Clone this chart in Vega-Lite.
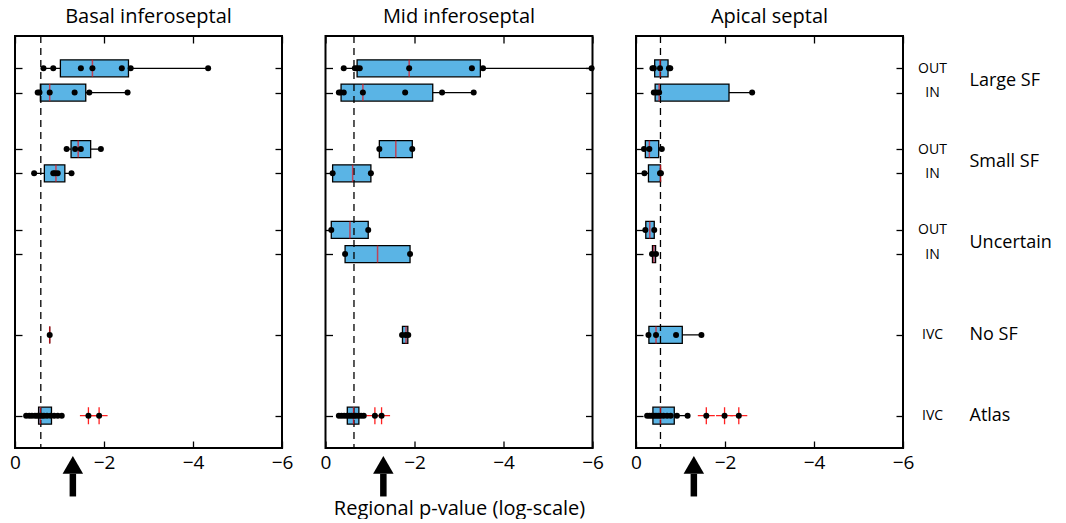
{
  "$schema": "https://vega.github.io/schema/vega-lite/v6.json",
  "padding": {"left": 8, "top": 6, "right": 0, "bottom": 0},
  "bounds": "flush",
  "spacing": 43.5,
  "datasets": {
    "boxes": [
      {"panel": "B", "y": 5.3, "lo": -0.64, "q1": -1.02, "med": -1.74, "q3": -2.55, "hi": -4.34},
      {"panel": "B", "y": 5, "lo": -0.51, "q1": -0.57, "med": -0.78, "q3": -1.59, "hi": -2.53},
      {"panel": "B", "y": 4.3, "lo": -1.16, "q1": -1.26, "med": -1.42, "q3": -1.7, "hi": -1.93},
      {"panel": "B", "y": 4, "lo": -0.43, "q1": -0.66, "med": -0.92, "q3": -1.12, "hi": -1.27},
      {"panel": "B", "y": 2, "lo": -0.78, "q1": -0.78, "med": -0.78, "q3": -0.78, "hi": -0.78},
      {"panel": "B", "y": 1, "lo": -0.25, "q1": -0.53, "med": -0.57, "q3": -0.82, "hi": -1.05},
      {"panel": "M", "y": 5.3, "lo": -0.41, "q1": -0.71, "med": -1.88, "q3": -3.48, "hi": -5.98},
      {"panel": "M", "y": 5, "lo": -0.3, "q1": -0.35, "med": -0.84, "q3": -2.41, "hi": -3.33},
      {"panel": "M", "y": 4.3, "lo": -1.21, "q1": -1.21, "med": -1.58, "q3": -1.95, "hi": -1.95},
      {"panel": "M", "y": 4, "lo": -0.16, "q1": -0.16, "med": -0.61, "q3": -1.02, "hi": -1.02},
      {"panel": "M", "y": 3.3, "lo": -0.13, "q1": -0.13, "med": -0.55, "q3": -0.96, "hi": -0.96},
      {"panel": "M", "y": 3, "lo": -0.44, "q1": -0.44, "med": -1.17, "q3": -1.9, "hi": -1.9},
      {"panel": "M", "y": 2, "lo": -1.72, "q1": -1.73, "med": -1.81, "q3": -1.85, "hi": -1.86},
      {"panel": "M", "y": 1, "lo": -0.3, "q1": -0.49, "med": -0.63, "q3": -0.75, "hi": -0.86},
      {"panel": "A", "y": 5.3, "lo": -0.37, "q1": -0.42, "med": -0.54, "q3": -0.72, "hi": -0.77},
      {"panel": "A", "y": 5, "lo": -0.4, "q1": -0.43, "med": -0.52, "q3": -2.09, "hi": -2.61},
      {"panel": "A", "y": 4.3, "lo": -0.18, "q1": -0.21, "med": -0.3, "q3": -0.51, "hi": -0.58},
      {"panel": "A", "y": 4, "lo": -0.19, "q1": -0.28, "med": -0.55, "q3": -0.55, "hi": -0.56},
      {"panel": "A", "y": 3.3, "lo": -0.21, "q1": -0.22, "med": -0.31, "q3": -0.41, "hi": -0.41},
      {"panel": "A", "y": 3, "lo": -0.36, "q1": -0.37, "med": -0.4, "q3": -0.44, "hi": -0.45},
      {"panel": "A", "y": 2, "lo": -0.28, "q1": -0.29, "med": -0.45, "q3": -1.04, "hi": -1.47},
      {"panel": "A", "y": 1, "lo": -0.25, "q1": -0.38, "med": -0.55, "q3": -0.86, "hi": -1.16}
    ],
    "points": [
      {"panel": "B", "y": 5.3, "v": -0.64, "out": 0}, {"panel": "B", "y": 5.3, "v": -0.86, "out": 0}, {"panel": "B", "y": 5.3, "v": -1.48, "out": 0}, {"panel": "B", "y": 5.3, "v": -1.74, "out": 0}, {"panel": "B", "y": 5.3, "v": -2.4, "out": 0}, {"panel": "B", "y": 5.3, "v": -2.6, "out": 0}, {"panel": "B", "y": 5.3, "v": -4.34, "out": 0},
      {"panel": "B", "y": 5, "v": -0.51, "out": 0}, {"panel": "B", "y": 5, "v": -0.55, "out": 0}, {"panel": "B", "y": 5, "v": -0.78, "out": 0}, {"panel": "B", "y": 5, "v": -1.34, "out": 0}, {"panel": "B", "y": 5, "v": -1.67, "out": 0}, {"panel": "B", "y": 5, "v": -2.53, "out": 0},
      {"panel": "B", "y": 4.3, "v": -1.16, "out": 0}, {"panel": "B", "y": 4.3, "v": -1.35, "out": 0}, {"panel": "B", "y": 4.3, "v": -1.48, "out": 0}, {"panel": "B", "y": 4.3, "v": -1.93, "out": 0},
      {"panel": "B", "y": 4, "v": -0.43, "out": 0}, {"panel": "B", "y": 4, "v": -0.86, "out": 0}, {"panel": "B", "y": 4, "v": -0.9, "out": 0}, {"panel": "B", "y": 4, "v": -0.96, "out": 0}, {"panel": "B", "y": 4, "v": -1.27, "out": 0},
      {"panel": "B", "y": 2, "v": -0.78, "out": 0},
      {"panel": "B", "y": 1, "v": -0.25, "out": 0}, {"panel": "B", "y": 1, "v": -0.32, "out": 0}, {"panel": "B", "y": 1, "v": -0.38, "out": 0}, {"panel": "B", "y": 1, "v": -0.45, "out": 0}, {"panel": "B", "y": 1, "v": -0.5, "out": 0}, {"panel": "B", "y": 1, "v": -0.55, "out": 0}, {"panel": "B", "y": 1, "v": -0.6, "out": 0}, {"panel": "B", "y": 1, "v": -0.65, "out": 0}, {"panel": "B", "y": 1, "v": -0.72, "out": 0}, {"panel": "B", "y": 1, "v": -0.8, "out": 0}, {"panel": "B", "y": 1, "v": -0.88, "out": 0}, {"panel": "B", "y": 1, "v": -0.96, "out": 0}, {"panel": "B", "y": 1, "v": -1.05, "out": 0}, {"panel": "B", "y": 1, "v": -1.65, "out": 1}, {"panel": "B", "y": 1, "v": -1.89, "out": 1},
      {"panel": "M", "y": 5.3, "v": -0.41, "out": 0}, {"panel": "M", "y": 5.3, "v": -0.66, "out": 0}, {"panel": "M", "y": 5.3, "v": -0.71, "out": 0}, {"panel": "M", "y": 5.3, "v": -0.77, "out": 0}, {"panel": "M", "y": 5.3, "v": -1.88, "out": 0}, {"panel": "M", "y": 5.3, "v": -3.29, "out": 0}, {"panel": "M", "y": 5.3, "v": -3.54, "out": 0}, {"panel": "M", "y": 5.3, "v": -5.98, "out": 0},
      {"panel": "M", "y": 5, "v": -0.3, "out": 0}, {"panel": "M", "y": 5, "v": -0.34, "out": 0}, {"panel": "M", "y": 5, "v": -0.41, "out": 0}, {"panel": "M", "y": 5, "v": -0.84, "out": 0}, {"panel": "M", "y": 5, "v": -1.79, "out": 0}, {"panel": "M", "y": 5, "v": -2.62, "out": 0}, {"panel": "M", "y": 5, "v": -3.33, "out": 0},
      {"panel": "M", "y": 4.3, "v": -1.21, "out": 0}, {"panel": "M", "y": 4.3, "v": -1.95, "out": 0},
      {"panel": "M", "y": 4, "v": -0.16, "out": 0}, {"panel": "M", "y": 4, "v": -1.02, "out": 0},
      {"panel": "M", "y": 3.3, "v": -0.13, "out": 0}, {"panel": "M", "y": 3.3, "v": -0.96, "out": 0},
      {"panel": "M", "y": 3, "v": -0.44, "out": 0}, {"panel": "M", "y": 3, "v": -1.9, "out": 0},
      {"panel": "M", "y": 2, "v": -1.72, "out": 0}, {"panel": "M", "y": 2, "v": -1.8, "out": 0}, {"panel": "M", "y": 2, "v": -1.86, "out": 0},
      {"panel": "M", "y": 1, "v": -0.3, "out": 0}, {"panel": "M", "y": 1, "v": -0.36, "out": 0}, {"panel": "M", "y": 1, "v": -0.42, "out": 0}, {"panel": "M", "y": 1, "v": -0.48, "out": 0}, {"panel": "M", "y": 1, "v": -0.53, "out": 0}, {"panel": "M", "y": 1, "v": -0.58, "out": 0}, {"panel": "M", "y": 1, "v": -0.63, "out": 0}, {"panel": "M", "y": 1, "v": -0.68, "out": 0}, {"panel": "M", "y": 1, "v": -0.74, "out": 0}, {"panel": "M", "y": 1, "v": -0.8, "out": 0}, {"panel": "M", "y": 1, "v": -0.86, "out": 0}, {"panel": "M", "y": 1, "v": -1.11, "out": 1}, {"panel": "M", "y": 1, "v": -1.26, "out": 1},
      {"panel": "A", "y": 5.3, "v": -0.37, "out": 0}, {"panel": "A", "y": 5.3, "v": -0.4, "out": 0}, {"panel": "A", "y": 5.3, "v": -0.54, "out": 0}, {"panel": "A", "y": 5.3, "v": -0.74, "out": 0}, {"panel": "A", "y": 5.3, "v": -0.77, "out": 0},
      {"panel": "A", "y": 5, "v": -0.4, "out": 0}, {"panel": "A", "y": 5, "v": -0.46, "out": 0}, {"panel": "A", "y": 5, "v": -0.52, "out": 0}, {"panel": "A", "y": 5, "v": -2.61, "out": 0},
      {"panel": "A", "y": 4.3, "v": -0.18, "out": 0}, {"panel": "A", "y": 4.3, "v": -0.3, "out": 0}, {"panel": "A", "y": 4.3, "v": -0.58, "out": 0},
      {"panel": "A", "y": 4, "v": -0.19, "out": 0}, {"panel": "A", "y": 4, "v": -0.54, "out": 0}, {"panel": "A", "y": 4, "v": -0.56, "out": 0},
      {"panel": "A", "y": 3.3, "v": -0.21, "out": 0}, {"panel": "A", "y": 3.3, "v": -0.41, "out": 0},
      {"panel": "A", "y": 3, "v": -0.36, "out": 0}, {"panel": "A", "y": 3, "v": -0.45, "out": 0},
      {"panel": "A", "y": 2, "v": -0.28, "out": 0}, {"panel": "A", "y": 2, "v": -0.45, "out": 0}, {"panel": "A", "y": 2, "v": -0.9, "out": 0}, {"panel": "A", "y": 2, "v": -1.47, "out": 0},
      {"panel": "A", "y": 1, "v": -0.25, "out": 0}, {"panel": "A", "y": 1, "v": -0.3, "out": 0}, {"panel": "A", "y": 1, "v": -0.35, "out": 0}, {"panel": "A", "y": 1, "v": -0.4, "out": 0}, {"panel": "A", "y": 1, "v": -0.45, "out": 0}, {"panel": "A", "y": 1, "v": -0.5, "out": 0}, {"panel": "A", "y": 1, "v": -0.55, "out": 0}, {"panel": "A", "y": 1, "v": -0.62, "out": 0}, {"panel": "A", "y": 1, "v": -0.7, "out": 0}, {"panel": "A", "y": 1, "v": -0.78, "out": 0}, {"panel": "A", "y": 1, "v": -0.92, "out": 0}, {"panel": "A", "y": 1, "v": -1.16, "out": 0}, {"panel": "A", "y": 1, "v": -1.58, "out": 1}, {"panel": "A", "y": 1, "v": -1.99, "out": 1}, {"panel": "A", "y": 1, "v": -2.31, "out": 1}
    ],
    "refs": [
      {"panel": "B", "v": -0.58, "arrow": -1.3, "a1": 0.0, "a2": 0.28, "ah": 0.39},
      {"panel": "M", "v": -0.64, "arrow": -1.3, "a1": 0.0, "a2": 0.28, "ah": 0.39},
      {"panel": "A", "v": -0.55, "arrow": -1.3, "a1": 0.0, "a2": 0.28, "ah": 0.39}
    ]
  },
  "hconcat": [
    {
      "width": 267, "height": 412,
      "title": {"text": "Basal inferoseptal"},
      "layer": [
        {"data": {"name": "boxes"}, "transform": [{"filter": "datum.panel == 'B'"}],
         "mark": {"type": "rule", "color": "black", "strokeWidth": 1.3},
         "encoding": {
           "x": {"field": "lo", "type": "quantitative", "scale": {"domain": [0, -6], "nice": false, "zero": false}, "axis": {"orient": "bottom", "values": [0, -2, -4, -6], "tickSize": -7, "labelPadding": 12, "title": null}},
           "x2": {"field": "hi"},
           "y": {"field": "y", "type": "quantitative", "scale": {"domain": [0.6, 5.7], "nice": false, "zero": false}, "axis": {"orient": "left", "values": [1, 2, 3, 3.3, 4, 4.3, 5, 5.3], "tickSize": -7, "labels": false, "title": null}}}},
        {"data": {"name": "boxes"}, "transform": [{"filter": "datum.panel == 'B'"}],
         "mark": {"type": "bar", "orient": "horizontal", "size": 17, "fill": "#5ab4e5", "stroke": "black", "strokeWidth": 1.3},
         "encoding": {
           "x": {"field": "q1", "type": "quantitative", "scale": {"domain": [0, -6], "nice": false, "zero": false}, "axis": {"orient": "top", "values": [0, -2, -4, -6], "tickSize": -7, "labels": false, "title": null}},
           "x2": {"field": "q3"},
           "y": {"field": "y", "type": "quantitative", "scale": {"domain": [0.6, 5.7], "nice": false, "zero": false}, "axis": {"orient": "right", "values": [1, 2, 3, 3.3, 4, 4.3, 5, 5.3], "tickSize": -7, "labels": false, "title": null}}}},
        {"data": {"name": "refs"}, "transform": [{"filter": "datum.panel == 'B'"}],
         "mark": {"type": "rule", "color": "black", "strokeWidth": 1.3, "strokeDash": [7, 5]},
         "encoding": {"x": {"field": "v", "type": "quantitative", "scale": {"domain": [0, -6], "nice": false, "zero": false}, "axis": null}}},
        {"data": {"name": "boxes"}, "transform": [{"filter": "datum.panel == 'B'"}],
         "mark": {"type": "tick", "orient": "vertical", "color": "#e8141c", "size": 17, "thickness": 1.5},
         "encoding": {
           "x": {"field": "med", "type": "quantitative", "scale": {"domain": [0, -6], "nice": false, "zero": false}, "axis": null},
           "y": {"field": "y", "type": "quantitative", "scale": {"domain": [0.6, 5.7], "nice": false, "zero": false}, "axis": null}}},
        {"data": {"name": "points"}, "transform": [{"filter": "datum.panel == 'B' && datum.out == 1"}],
         "mark": {"type": "point", "shape": "M-1,0L1,0M0,-1L0,1", "filled": false, "stroke": "#ff2020", "strokeWidth": 1.3, "size": 289, "opacity": 1},
         "encoding": {
           "x": {"field": "v", "type": "quantitative", "scale": {"domain": [0, -6], "nice": false, "zero": false}, "axis": null},
           "y": {"field": "y", "type": "quantitative", "scale": {"domain": [0.6, 5.7], "nice": false, "zero": false}, "axis": null}}},
        {"data": {"name": "points"}, "transform": [{"filter": "datum.panel == 'B'"}],
         "mark": {"type": "circle", "color": "black", "size": 36, "opacity": 1},
         "encoding": {
           "x": {"field": "v", "type": "quantitative", "scale": {"domain": [0, -6], "nice": false, "zero": false}, "axis": null},
           "y": {"field": "y", "type": "quantitative", "scale": {"domain": [0.6, 5.7], "nice": false, "zero": false}, "axis": null}}},
        {"data": {"name": "refs"}, "transform": [{"filter": "datum.panel == 'B'"}],
         "mark": {"type": "rule", "color": "black", "strokeWidth": 6.5},
         "encoding": {
           "x": {"field": "arrow", "type": "quantitative", "scale": {"domain": [0, -6], "nice": false, "zero": false}, "axis": null},
           "y": {"field": "a1", "type": "quantitative", "scale": {"domain": [0.6, 5.7], "nice": false, "zero": false}, "axis": null},
           "y2": {"field": "a2"}}},
        {"data": {"name": "refs"}, "transform": [{"filter": "datum.panel == 'B'"}],
         "mark": {"type": "point", "shape": "triangle-up", "filled": true, "color": "black", "size": 420, "opacity": 1},
         "encoding": {
           "x": {"field": "arrow", "type": "quantitative", "scale": {"domain": [0, -6], "nice": false, "zero": false}, "axis": null},
           "y": {"field": "ah", "type": "quantitative", "scale": {"domain": [0.6, 5.7], "nice": false, "zero": false}, "axis": null}}}
      ],
      "resolve": {"axis": {"x": "independent", "y": "independent"}}
    },
    {
      "width": 267, "height": 412,
      "title": {"text": "Mid inferoseptal"},
      "layer": [
        {"data": {"name": "boxes"}, "transform": [{"filter": "datum.panel == 'M'"}],
         "mark": {"type": "rule", "color": "black", "strokeWidth": 1.3},
         "encoding": {
           "x": {"field": "lo", "type": "quantitative", "scale": {"domain": [0, -6], "nice": false, "zero": false}, "axis": {"orient": "bottom", "values": [0, -2, -4, -6], "tickSize": -7, "labelPadding": 12, "title": "Regional p-value (log-scale)", "titlePadding": 26}},
           "x2": {"field": "hi"},
           "y": {"field": "y", "type": "quantitative", "scale": {"domain": [0.6, 5.7], "nice": false, "zero": false}, "axis": {"orient": "left", "values": [1, 2, 3, 3.3, 4, 4.3, 5, 5.3], "tickSize": -7, "labels": false, "title": null}}}},
        {"data": {"name": "boxes"}, "transform": [{"filter": "datum.panel == 'M'"}],
         "mark": {"type": "bar", "orient": "horizontal", "size": 17, "fill": "#5ab4e5", "stroke": "black", "strokeWidth": 1.3},
         "encoding": {
           "x": {"field": "q1", "type": "quantitative", "scale": {"domain": [0, -6], "nice": false, "zero": false}, "axis": {"orient": "top", "values": [0, -2, -4, -6], "tickSize": -7, "labels": false, "title": null}},
           "x2": {"field": "q3"},
           "y": {"field": "y", "type": "quantitative", "scale": {"domain": [0.6, 5.7], "nice": false, "zero": false}, "axis": {"orient": "right", "values": [1, 2, 3, 3.3, 4, 4.3, 5, 5.3], "tickSize": -7, "labels": false, "title": null}}}},
        {"data": {"name": "refs"}, "transform": [{"filter": "datum.panel == 'M'"}],
         "mark": {"type": "rule", "color": "black", "strokeWidth": 1.3, "strokeDash": [7, 5]},
         "encoding": {"x": {"field": "v", "type": "quantitative", "scale": {"domain": [0, -6], "nice": false, "zero": false}, "axis": null}}},
        {"data": {"name": "boxes"}, "transform": [{"filter": "datum.panel == 'M'"}],
         "mark": {"type": "tick", "orient": "vertical", "color": "#e8141c", "size": 17, "thickness": 1.5},
         "encoding": {
           "x": {"field": "med", "type": "quantitative", "scale": {"domain": [0, -6], "nice": false, "zero": false}, "axis": null},
           "y": {"field": "y", "type": "quantitative", "scale": {"domain": [0.6, 5.7], "nice": false, "zero": false}, "axis": null}}},
        {"data": {"name": "points"}, "transform": [{"filter": "datum.panel == 'M' && datum.out == 1"}],
         "mark": {"type": "point", "shape": "M-1,0L1,0M0,-1L0,1", "filled": false, "stroke": "#ff2020", "strokeWidth": 1.3, "size": 289, "opacity": 1},
         "encoding": {
           "x": {"field": "v", "type": "quantitative", "scale": {"domain": [0, -6], "nice": false, "zero": false}, "axis": null},
           "y": {"field": "y", "type": "quantitative", "scale": {"domain": [0.6, 5.7], "nice": false, "zero": false}, "axis": null}}},
        {"data": {"name": "points"}, "transform": [{"filter": "datum.panel == 'M'"}],
         "mark": {"type": "circle", "color": "black", "size": 36, "opacity": 1},
         "encoding": {
           "x": {"field": "v", "type": "quantitative", "scale": {"domain": [0, -6], "nice": false, "zero": false}, "axis": null},
           "y": {"field": "y", "type": "quantitative", "scale": {"domain": [0.6, 5.7], "nice": false, "zero": false}, "axis": null}}},
        {"data": {"name": "refs"}, "transform": [{"filter": "datum.panel == 'M'"}],
         "mark": {"type": "rule", "color": "black", "strokeWidth": 6.5},
         "encoding": {
           "x": {"field": "arrow", "type": "quantitative", "scale": {"domain": [0, -6], "nice": false, "zero": false}, "axis": null},
           "y": {"field": "a1", "type": "quantitative", "scale": {"domain": [0.6, 5.7], "nice": false, "zero": false}, "axis": null},
           "y2": {"field": "a2"}}},
        {"data": {"name": "refs"}, "transform": [{"filter": "datum.panel == 'M'"}],
         "mark": {"type": "point", "shape": "triangle-up", "filled": true, "color": "black", "size": 420, "opacity": 1},
         "encoding": {
           "x": {"field": "arrow", "type": "quantitative", "scale": {"domain": [0, -6], "nice": false, "zero": false}, "axis": null},
           "y": {"field": "ah", "type": "quantitative", "scale": {"domain": [0.6, 5.7], "nice": false, "zero": false}, "axis": null}}}
      ],
      "resolve": {"axis": {"x": "independent", "y": "independent"}}
    },
    {
      "width": 267, "height": 412,
      "title": {"text": "Apical septal"},
      "layer": [
        {"data": {"name": "boxes"}, "transform": [{"filter": "datum.panel == 'A'"}],
         "mark": {"type": "rule", "color": "black", "strokeWidth": 1.3},
         "encoding": {
           "x": {"field": "lo", "type": "quantitative", "scale": {"domain": [0, -6], "nice": false, "zero": false}, "axis": {"orient": "bottom", "values": [0, -2, -4, -6], "tickSize": -7, "labelPadding": 12, "title": null}},
           "x2": {"field": "hi"},
           "y": {"field": "y", "type": "quantitative", "scale": {"domain": [0.6, 5.7], "nice": false, "zero": false}, "axis": {"orient": "left", "values": [1, 2, 3, 3.3, 4, 4.3, 5, 5.3], "tickSize": -7, "labels": false, "title": null}}}},
        {"data": {"name": "boxes"}, "transform": [{"filter": "datum.panel == 'A'"}],
         "mark": {"type": "bar", "orient": "horizontal", "size": 17, "fill": "#5ab4e5", "stroke": "black", "strokeWidth": 1.3},
         "encoding": {
           "x": {"field": "q1", "type": "quantitative", "scale": {"domain": [0, -6], "nice": false, "zero": false}, "axis": {"orient": "top", "values": [0, -2, -4, -6], "tickSize": -7, "labels": false, "title": null}},
           "x2": {"field": "q3"},
           "y": {"field": "y", "type": "quantitative", "scale": {"domain": [0.6, 5.7], "nice": false, "zero": false}, "axis": {"orient": "right", "values": [1, 2, 3, 3.3, 4, 4.3, 5, 5.3], "tickSize": -7, "labels": true, "labelFontSize": 14, "labelAlign": "center", "labelPadding": 36, "labelExpr": "indexof([5.3, 4.3, 3.3], datum.value) >= 0 ? 'OUT' : datum.value >= 3 ? 'IN' : 'IVC'", "title": null}}}},
        {"data": {"name": "refs"}, "transform": [{"filter": "datum.panel == 'A'"}],
         "mark": {"type": "rule", "color": "black", "strokeWidth": 1.3, "strokeDash": [7, 5]},
         "encoding": {"x": {"field": "v", "type": "quantitative", "scale": {"domain": [0, -6], "nice": false, "zero": false}, "axis": null}}},
        {"data": {"name": "boxes"}, "transform": [{"filter": "datum.panel == 'A'"}],
         "mark": {"type": "tick", "orient": "vertical", "color": "#e8141c", "size": 17, "thickness": 1.5},
         "encoding": {
           "x": {"field": "med", "type": "quantitative", "scale": {"domain": [0, -6], "nice": false, "zero": false}, "axis": null},
           "y": {"field": "y", "type": "quantitative", "scale": {"domain": [0.6, 5.7], "nice": false, "zero": false}, "axis": {"orient": "right", "values": [1, 2, 3.15, 4.15, 5.15], "ticks": false, "labelFontSize": 18, "labelAlign": "left", "labelPadding": 66, "labelExpr": "datum.value > 5 ? 'Large SF' : datum.value > 4 ? 'Small SF' : datum.value > 3 ? 'Uncertain' : datum.value > 1.5 ? 'No SF' : 'Atlas'", "title": null}}}},
        {"data": {"name": "points"}, "transform": [{"filter": "datum.panel == 'A' && datum.out == 1"}],
         "mark": {"type": "point", "shape": "M-1,0L1,0M0,-1L0,1", "filled": false, "stroke": "#ff2020", "strokeWidth": 1.3, "size": 289, "opacity": 1},
         "encoding": {
           "x": {"field": "v", "type": "quantitative", "scale": {"domain": [0, -6], "nice": false, "zero": false}, "axis": null},
           "y": {"field": "y", "type": "quantitative", "scale": {"domain": [0.6, 5.7], "nice": false, "zero": false}, "axis": null}}},
        {"data": {"name": "points"}, "transform": [{"filter": "datum.panel == 'A'"}],
         "mark": {"type": "circle", "color": "black", "size": 36, "opacity": 1},
         "encoding": {
           "x": {"field": "v", "type": "quantitative", "scale": {"domain": [0, -6], "nice": false, "zero": false}, "axis": null},
           "y": {"field": "y", "type": "quantitative", "scale": {"domain": [0.6, 5.7], "nice": false, "zero": false}, "axis": null}}},
        {"data": {"name": "refs"}, "transform": [{"filter": "datum.panel == 'A'"}],
         "mark": {"type": "rule", "color": "black", "strokeWidth": 6.5},
         "encoding": {
           "x": {"field": "arrow", "type": "quantitative", "scale": {"domain": [0, -6], "nice": false, "zero": false}, "axis": null},
           "y": {"field": "a1", "type": "quantitative", "scale": {"domain": [0.6, 5.7], "nice": false, "zero": false}, "axis": null},
           "y2": {"field": "a2"}}},
        {"data": {"name": "refs"}, "transform": [{"filter": "datum.panel == 'A'"}],
         "mark": {"type": "point", "shape": "triangle-up", "filled": true, "color": "black", "size": 420, "opacity": 1},
         "encoding": {
           "x": {"field": "arrow", "type": "quantitative", "scale": {"domain": [0, -6], "nice": false, "zero": false}, "axis": null},
           "y": {"field": "ah", "type": "quantitative", "scale": {"domain": [0.6, 5.7], "nice": false, "zero": false}, "axis": null}}}
      ],
      "resolve": {"axis": {"x": "independent", "y": "independent"}}
    }
  ],
  "config": {
    "view": {"stroke": "black", "strokeWidth": 2},
    "font": "Open Sans",
    "scale": {"continuousPadding": 0},
    "axis": {"grid": false, "domain": false, "tickColor": "black", "tickWidth": 1.3, "labelColor": "black", "labelFont": "Open Sans", "labelFontSize": 19, "titleFont": "Open Sans", "titleFontSize": 20, "titleFontWeight": "normal", "titleColor": "black", "labelFlush": false, "labelOverlap": false},
    "title": {"font": "Open Sans", "fontSize": 20, "fontWeight": "normal", "color": "black", "offset": 8}
  }
}
